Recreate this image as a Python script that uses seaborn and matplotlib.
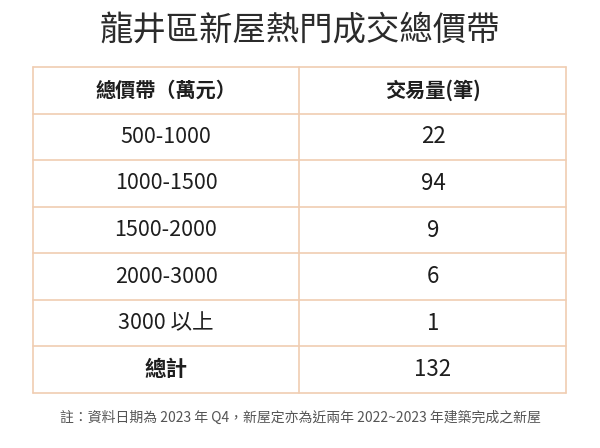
import matplotlib.pyplot as plt
import seaborn as sns

title = '龍井區新屋熱門成交總價帶'
headers = ['總價帶（萬元）', '交易量(筆)']
price_bands = ['500-1000', '1000-1500', '1500-2000', '2000-3000', '3000 以上', '總計']
deal_counts = [22, 94, 9, 6, 1, 132]
note = '註：資料日期為 2023 年 Q4，新屋定亦為近兩年 2022~2023 年建築完成之新屋'

LINE = '#f0cdb2'
TEXT = '#1e1e1e'


def main():
    sns.set_theme(style='white')
    plt.rcParams['font.family'] = ['Noto Sans CJK TC', 'DejaVu Sans']

    fig = plt.figure(figsize=(6, 4.48), dpi=100)
    # table area in figure pixels: x 33..566, y 67..393
    ax = fig.add_axes([33 / 600, 1 - 393 / 448, 533 / 600, 326 / 448])
    n_rows = len(price_bands) + 1
    ax.set_xlim(0, 533)
    ax.set_ylim(n_rows, 0)
    ax.axis('off')

    # grid lines
    for y in range(n_rows + 1):
        ax.axhline(y, color=LINE, lw=1.2, zorder=1, clip_on=False)
    for x in (0, 266, 533):
        ax.axvline(x, color=LINE, lw=1.2, zorder=1, clip_on=False)

    col_x = [133, 400]
    ax.text(col_x[0], 0.5, headers[0], ha='center', va='center',
            fontsize=14.5, fontweight='bold', color=TEXT)
    ax.text(col_x[1], 0.5, headers[1], ha='center', va='center',
            fontsize=14.5, fontweight='bold', color=TEXT)

    for i, (band, cnt) in enumerate(zip(price_bands, deal_counts)):
        y = i + 1.5
        bold = band == '總計'
        ax.text(col_x[0], y, band, ha='center', va='center',
                fontsize=15.5, fontweight='bold' if bold else 'medium',
                color=TEXT)
        ax.text(col_x[1], y, str(cnt), ha='center', va='center',
                fontsize=16, color=TEXT)

    fig.text(0.5, 1 - 31 / 448, title, ha='center', va='center',
             fontsize=24, color='#2b2b2b')
    fig.text(0.5, 1 - 418 / 448, note, ha='center', va='center',
             fontsize=10, color='#555555')

    fig.savefig('out.png', dpi=100, facecolor='white')


if __name__ == '__main__':
    main()
